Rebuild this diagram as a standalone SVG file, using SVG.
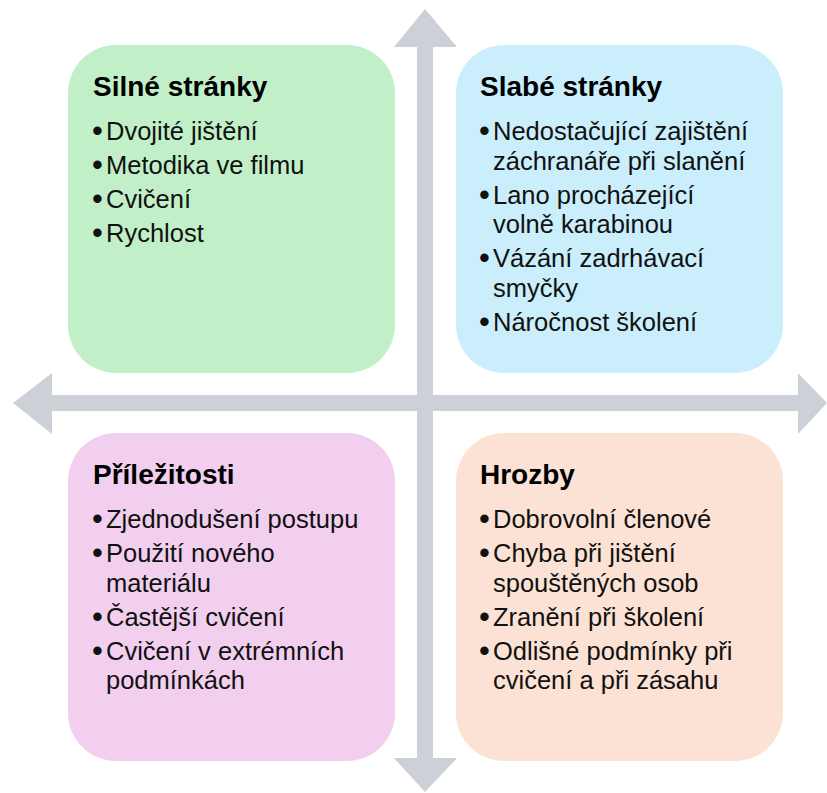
<svg xmlns="http://www.w3.org/2000/svg" width="827" height="793" viewBox="0 0 827 793">
  <style>
    .box { stroke: none; }
    .title { font-family: "Liberation Sans", Arial, sans-serif; font-weight: bold; font-size: 28px; fill: #000000; }
    .body { font-family: "Liberation Sans", Arial, sans-serif; font-size: 25.5px; fill: #111111; }
    .b { font-size: 31px; }
    .arrow { fill: #CCD1D8; stroke: none; }
  </style>
  <rect width="827" height="793" fill="#FFFFFF"/>
  <g id="connectors">
    <polygon class="arrow" points="425,9 457,47 433,47 433,758 457,758 425,792 394,758 417,758 417,47 394,47"/>
    <polygon class="arrow" points="13,403 52,373 52,395 798,395 798,373 827,403 798,434 798,411 52,411 52,434"/>
  </g>
  <g id="strengths">
    <rect class="box" x="68" y="45" width="327" height="328" rx="48" ry="48" fill="#C1F0C8"/>
    <text class="title" x="93" y="96">Silné stránky</text>
    <text class="body"><tspan class="b" x="92" y="141">•</tspan><tspan x="106" y="140">Dvojité jištění</tspan></text>
    <text class="body"><tspan class="b" x="92" y="175">•</tspan><tspan x="106" y="174">Metodika ve filmu</tspan></text>
    <text class="body"><tspan class="b" x="92" y="209">•</tspan><tspan x="106" y="208">Cvičení</tspan></text>
    <text class="body"><tspan class="b" x="92" y="243">•</tspan><tspan x="106" y="242">Rychlost</tspan></text>
  </g>
  <g id="weaknesses">
    <rect class="box" x="456" y="45" width="327" height="328" rx="48" ry="48" fill="#CAEEFB"/>
    <text class="title" x="480" y="96">Slabé stránky</text>
    <text class="body"><tspan class="b" x="479" y="141">•</tspan><tspan x="493" y="140">Nedostačující zajištění</tspan><tspan x="493" y="169.5">záchranáře při slanění</tspan></text>
    <text class="body"><tspan class="b" x="479" y="204.5">•</tspan><tspan x="493" y="203.5">Lano procházející</tspan><tspan x="493" y="233">volně karabinou</tspan></text>
    <text class="body"><tspan class="b" x="479" y="268">•</tspan><tspan x="493" y="267">Vázání zadrhávací</tspan><tspan x="493" y="296.5">smyčky</tspan></text>
    <text class="body"><tspan class="b" x="479" y="331.5">•</tspan><tspan x="493" y="330.5">Náročnost školení</tspan></text>
  </g>
  <g id="opportunities">
    <rect class="box" x="68" y="433" width="327" height="328" rx="48" ry="48" fill="#F2CFEE"/>
    <text class="title" x="93" y="484">Příležitosti</text>
    <text class="body"><tspan class="b" x="92" y="529">•</tspan><tspan x="106" y="528">Zjednodušení postupu</tspan></text>
    <text class="body"><tspan class="b" x="92" y="563">•</tspan><tspan x="106" y="562">Použití nového</tspan><tspan x="106" y="591.5">materiálu</tspan></text>
    <text class="body"><tspan class="b" x="92" y="626.5">•</tspan><tspan x="106" y="625.5">Častější cvičení</tspan></text>
    <text class="body"><tspan class="b" x="92" y="660.5">•</tspan><tspan x="106" y="659.5">Cvičení v extrémních</tspan><tspan x="106" y="689">podmínkách</tspan></text>
  </g>
  <g id="threats">
    <rect class="box" x="456" y="433" width="327" height="328" rx="48" ry="48" fill="#FBE2D5"/>
    <text class="title" x="480" y="484">Hrozby</text>
    <text class="body"><tspan class="b" x="479" y="529">•</tspan><tspan x="493" y="528">Dobrovolní členové</tspan></text>
    <text class="body"><tspan class="b" x="479" y="563">•</tspan><tspan x="493" y="562">Chyba při jištění</tspan><tspan x="493" y="591.5">spouštěných osob</tspan></text>
    <text class="body"><tspan class="b" x="479" y="626.5">•</tspan><tspan x="493" y="625.5">Zranění při školení</tspan></text>
    <text class="body"><tspan class="b" x="479" y="660.5">•</tspan><tspan x="493" y="659.5">Odlišné podmínky při</tspan><tspan x="493" y="689">cvičení a při zásahu</tspan></text>
  </g>
</svg>
